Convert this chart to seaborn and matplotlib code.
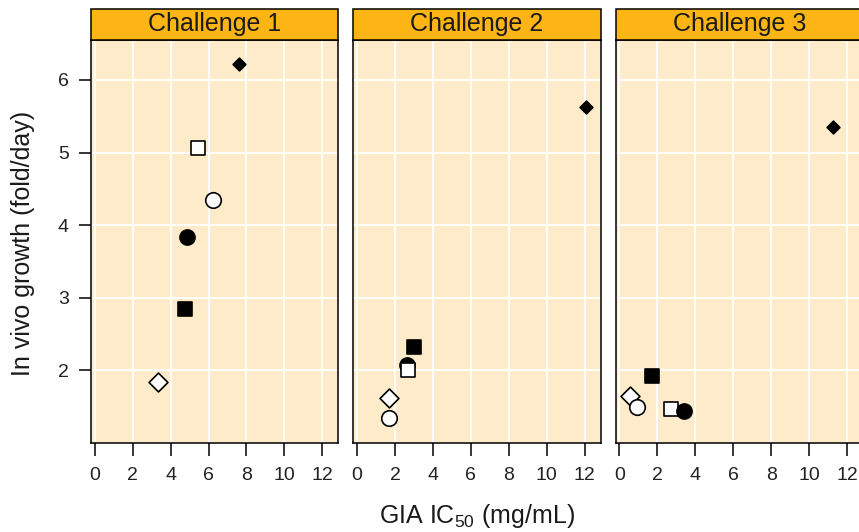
import matplotlib
matplotlib.use("Agg")
import matplotlib.pyplot as plt
from matplotlib.patches import Rectangle
import seaborn as sns
import pandas as pd
import numpy as np

sns.set_style("ticks")
plt.rcParams['font.family'] = ['Liberation Sans', 'DejaVu Sans']
plt.rcParams['mathtext.fontset'] = 'custom'
plt.rcParams['mathtext.rm'] = 'Liberation Sans'
plt.rcParams['mathtext.it'] = 'Liberation Sans:italic'

challenges = ["Challenge 1", "Challenge 2", "Challenge 3"]
groups = ["G1", "G2", "G3", "G4", "G5", "G6"]
# per group: x (GIA IC50) and y (in vivo growth) for each challenge
ic50_c1 = [7.62, 5.45, 6.24, 4.87, 4.76, 3.33]
growth_c1 = [6.22, 5.06, 4.34, 3.84, 2.85, 1.84]
ic50_c2 = [12.09, 2.68, 1.67, 2.62, 3.00, 1.68]
growth_c2 = [5.63, 2.01, 1.35, 2.07, 2.32, 1.62]
ic50_c3 = [11.29, 2.71, 0.94, 3.40, 1.70, 0.53]
growth_c3 = [5.35, 1.47, 1.50, 1.44, 1.92, 1.65]
# drawing order of groups within each panel (later = on top)
order_c1 = ["G6", "G4", "G2", "G3", "G5", "G1"]
order_c2 = ["G6", "G4", "G2", "G3", "G5", "G1"]
order_c3 = ["G6", "G3", "G2", "G4", "G5", "G1"]

x_ticks = [0, 2, 4, 6, 8, 10, 12]
y_ticks = [2, 3, 4, 5, 6]

marker_styles = {
    "G1": dict(marker="D", s=42, facecolor="black"),
    "G2": dict(marker="s", s=88, facecolor="white"),
    "G3": dict(marker="o", s=125, facecolor="white"),
    "G4": dict(marker="o", s=118, facecolor="black"),
    "G5": dict(marker="s", s=100, facecolor="black"),
    "G6": dict(marker="D", s=92, facecolor="white"),
}

rows = []
for ch, xs, ys, order in zip(challenges, [ic50_c1, ic50_c2, ic50_c3],
                             [growth_c1, growth_c2, growth_c3],
                             [order_c1, order_c2, order_c3]):
    for g, x, y in zip(groups, xs, ys):
        rows.append(dict(challenge=ch, group=g, ic50=x, growth=y, rank=order.index(g)))
df = pd.DataFrame(rows)

BG = "#FEEBC9"
STRIP = "#FDB515"


def draw(data, **kw):
    ax = plt.gca()
    for _, row in data.sort_values("rank").iterrows():
        sub = data[data.group == row.group]
        st = marker_styles[row.group]
        sns.scatterplot(data=sub, x="ic50", y="growth", ax=ax, marker=st["marker"],
                        s=st["s"], color=st["facecolor"], edgecolor="black",
                        linewidth=1.2, zorder=3 + 0.1 * row["rank"], legend=False)


g = sns.FacetGrid(df, col="challenge", col_order=challenges, sharex=True, sharey=True,
                  height=4, aspect=0.7, despine=False)
g.map_dataframe(draw)
g.figure.set_size_inches(8.59, 5.32)
g.figure.subplots_adjust(left=91/859, right=863/859, bottom=(532-443)/532,
                         top=(532-40)/532, wspace=15/247)
g.set_titles("")

for i, (ax, ch) in enumerate(zip(g.axes.flat, challenges)):
    ax.set_facecolor(BG)
    ax.set_xlim(-0.2, 12.85)
    ax.set_ylim(1.0, 6.55)
    ax.set_xticks(x_ticks)
    ax.set_yticks(y_ticks)
    ax.grid(True, color="white", linewidth=1.3, zorder=0)
    ax.set_axisbelow(True)
    ax.set_xlabel("")
    ax.set_ylabel("")
    for sp in ax.spines.values():
        sp.set_color("black")
        sp.set_linewidth(1.1)
    ax.tick_params(axis="x", direction="out", length=9, width=1.1, labelsize=14,
                   pad=8, colors="black", labelcolor="#222222")
    ax.tick_params(axis="y", direction="out", length=9, width=1.1, labelsize=14,
                   pad=7, colors="black", labelcolor="#222222")
    if i > 0:
        ax.tick_params(axis="y", left=False, labelleft=False)
    strip_h = 31 / 403
    ax.add_patch(Rectangle((0, 1), 1, strip_h, transform=ax.transAxes, clip_on=False,
                           facecolor=STRIP, edgecolor="black", linewidth=1.1, zorder=5))
    ax.text(0.5, 1 + strip_h / 2, ch, transform=ax.transAxes, ha="center", va="center",
            fontsize=18, color="#1a1a1a", zorder=6)

g.figure.text(23/859, 1 - 243/532, "In vivo growth (fold/day)", rotation=90,
              ha="center", va="center", fontsize=18, color="#1a1a1a")
g.figure.text(477/859, 1 - 516/532, "GIA IC$_{50}$ (mg/mL)", ha="center", va="center",
              fontsize=18, color="#1a1a1a")

g.figure.savefig("out.png", dpi=100)
